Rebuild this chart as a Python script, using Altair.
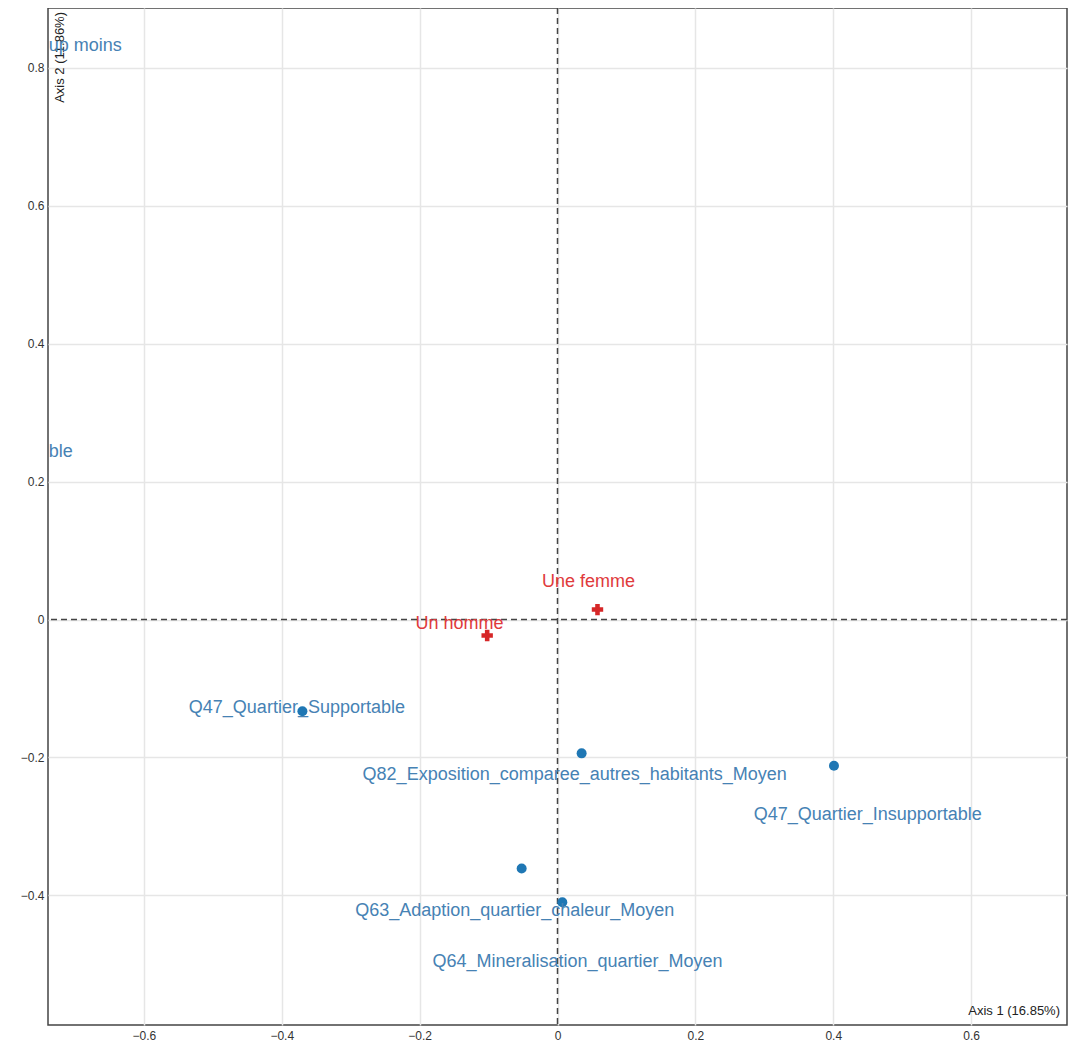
import altair as alt
import pandas as pd

# Active variable categories (blue)
var_names = [
    "Q47_Quartier_Supportable",
    "Q82_Exposition_comparee_autres_habitants_Moyen",
    "Q47_Quartier_Insupportable",
    "Q63_Adaption_quartier_chaleur_Moyen",
    "Q64_Mineralisation_quartier_Moyen",
]
var_x = [-0.370, 0.035, 0.401, -0.052, 0.007]
var_y = [-0.133, -0.194, -0.212, -0.361, -0.410]
var_lx = [-0.378, 0.025, 0.450, -0.062, 0.029]
var_ly = [-0.128, -0.226, -0.284, -0.423, -0.497]

# Label fragments visible at the left edge (their points lie beyond it)
cut_names = ["up moins", "ble"]
cut_lx = [-0.738, -0.738]
cut_ly = [0.832, 0.243]

# Supplementary categories (red)
sup_names = ["Une femme", "Un homme"]
sup_x = [0.058, -0.102]
sup_y = [0.0145, -0.023]
sup_lx = [0.045, -0.142]
sup_ly = [0.055, -0.006]

x_ticks = [-0.6, -0.4, -0.2, 0, 0.2, 0.4, 0.6]
y_ticks = [-0.4, -0.2, 0, 0.2, 0.4, 0.6, 0.8]
x_domain = [-0.739, 0.739]
y_domain = [-0.588, 0.887]

title_x = "Axis 1 (16.85%)"
title_y = "Axis 2 (11.86%)"

var_df = pd.DataFrame({"name": var_names, "x": var_x, "y": var_y, "lx": var_lx, "ly": var_ly})
cut_df = pd.DataFrame({"name": cut_names, "lx": cut_lx, "ly": cut_ly})
sup_df = pd.DataFrame({"name": sup_names, "x": sup_x, "y": sup_y, "lx": sup_lx, "ly": sup_ly})

FONT = "Liberation Sans"
BLUE_PT = "#1f77b4"
BLUE_TX = "#4682b4"
RED = "#d62728"
RED_TX = "#e03a3c"

xs = alt.Scale(domain=x_domain, nice=False, zero=False)
ys = alt.Scale(domain=y_domain, nice=False, zero=False)
xax = alt.Axis(values=x_ticks, format=".1~f", title=None, grid=True, gridColor="#e6e6e6", gridWidth=1.5,
               domain=False, ticks=False, labelPadding=5, labelFontSize=12, labelColor="#333",
               labelFont=FONT)
yax = alt.Axis(values=y_ticks, format=".1~f", title=None, grid=True, gridColor="#e6e6e6", gridWidth=1.5,
               domain=False, ticks=False, labelPadding=4, labelFontSize=12, labelColor="#333",
               labelFont=FONT)

base_x = alt.X("x:Q", scale=xs, axis=xax)
base_y = alt.Y("y:Q", scale=ys, axis=yax)

points = alt.Chart(var_df).mark_point(filled=True, shape="circle", size=100, color=BLUE_PT, opacity=1).encode(
    x=base_x, y=base_y)

crosses = alt.Chart(sup_df).mark_point(filled=True, shape="cross", size=130, color=RED, opacity=1).encode(
    x=alt.X("x:Q", scale=xs), y=alt.Y("y:Q", scale=ys))

zero_h = alt.Chart(pd.DataFrame({"v": [0]})).mark_rule(color="#444", strokeDash=[6, 4], strokeWidth=1.5).encode(
    y=alt.Y("v:Q", scale=ys))
zero_v = alt.Chart(pd.DataFrame({"v": [0]})).mark_rule(color="#444", strokeDash=[6, 4], strokeWidth=1.5).encode(
    x=alt.X("v:Q", scale=xs))

var_labels = alt.Chart(var_df).mark_text(font=FONT, fontSize=18, color=BLUE_TX, baseline="middle",
                                         align="center").encode(
    x=alt.X("lx:Q", scale=xs), y=alt.Y("ly:Q", scale=ys), text="name:N")

cut_labels = alt.Chart(cut_df).mark_text(font=FONT, fontSize=18, color=BLUE_TX, baseline="middle",
                                         align="left").encode(
    x=alt.X("lx:Q", scale=xs), y=alt.Y("ly:Q", scale=ys), text="name:N")

sup_labels = alt.Chart(sup_df).mark_text(font=FONT, fontSize=18, color=RED_TX, baseline="middle",
                                         align="center").encode(
    x=alt.X("lx:Q", scale=xs), y=alt.Y("ly:Q", scale=ys), text="name:N")

t1 = alt.Chart(pd.DataFrame({"t": [title_x]})).mark_text(font=FONT, fontSize=13, color="#222",
                                                         align="right", baseline="bottom").encode(
    x=alt.value(1012), y=alt.value(1010), text="t:N")
t2 = alt.Chart(pd.DataFrame({"t": [title_y]})).mark_text(font=FONT, fontSize=13, color="#222",
                                                         align="right", baseline="bottom", angle=270).encode(
    x=alt.value(19), y=alt.value(4), text="t:N")

chart = alt.layer(zero_h, zero_v, points, crosses, t1, t2, var_labels, cut_labels, sup_labels).properties(
    width=1019, height=1017,
    autosize=alt.AutoSizeParams(type="none"),
    padding={"left": 40, "top": 0, "right": 4, "bottom": 20},
    background="white",
).configure_view(stroke="#444", strokeWidth=1.5)

chart.save("out.html", embed_options={"renderer": "svg", "actions": False})
